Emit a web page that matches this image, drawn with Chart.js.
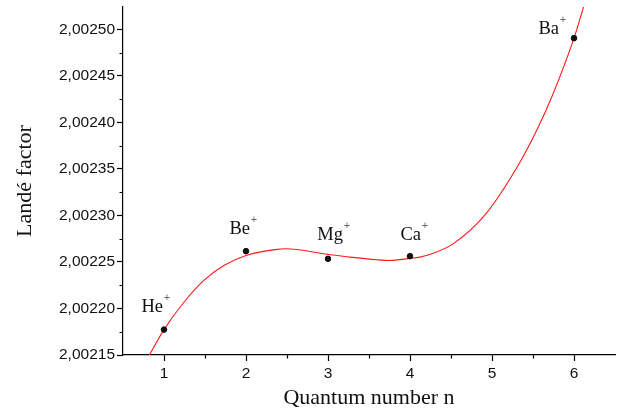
<!DOCTYPE html>
<html><head><meta charset="utf-8">
<script src="https://cdn.jsdelivr.net/npm/chart.js@4"></script>
<style>html,body{margin:0;padding:0;background:#fff}</style>
</head><body><canvas id="c" width="623" height="412"></canvas>
<script>
// ---- data ----
const ions = ['He', 'Be', 'Mg', 'Ca', 'Ba'];
const ionN = [1, 2, 3, 4, 6];
const ionG = [2.0021773, 2.0022616, 2.0022534, 2.0022562, 2.0024905];
// fitted curve
const fitN = [0.818, 1.0, 1.243, 1.486, 1.729, 2.0, 2.378, 2.48, 3.0, 3.27, 3.593, 3.75, 4.0, 4.12, 4.24, 4.524, 4.93, 5.334, 5.553, 5.739, 6.0, 6.118];
const fitG = [2.0021493, 2.0021773, 2.0022067, 2.0022301, 2.0022462, 2.0022570, 2.0022635, 2.0022642, 2.0022581, 2.0022552, 2.0022524, 2.0022516, 2.0022538, 2.0022552, 2.0022579, 2.0022694, 2.0023023, 2.0023561, 2.0023928, 2.0024294, 2.0024905, 2.0025243];
const xTicks = [1, 2, 3, 4, 5, 6];
const xMinorTicks = [1.5, 2.5, 3.5, 4.5, 5.5];
const yTicks = [2.00215, 2.00220, 2.00225, 2.00230, 2.00235, 2.00240, 2.00245, 2.00250];
const yMinorTicks = [2.002175, 2.002225, 2.002275, 2.002325, 2.002375, 2.002425, 2.002475];

// label placement relative to each point: [dx of text right edge, dy of baseline]
const labelOffsets = { He: [-1, -18], Be: [4, -17], Mg: [15, -19], Ca: [11, -16], Ba: [-15, -4] };

const tickFont = { family: 'Liberation Sans, Arial, sans-serif', size: 15.5 };
const titleFont = { family: 'Liberation Serif, Times New Roman, serif', size: 22 };

const extras = {
  id: 'extras',
  afterDraw(chart) {
    const ctx = chart.ctx;
    const xs = chart.scales.x, ys = chart.scales.y;
    ctx.save();
    // minor ticks
    ctx.strokeStyle = '#000';
    ctx.lineWidth = 1.2;
    ctx.beginPath();
    xMinorTicks.forEach(v => {
      const px = Math.round(xs.getPixelForValue(v)) + 0.5;
      ctx.moveTo(px, xs.top);
      ctx.lineTo(px, xs.top + 3.5);
    });
    yMinorTicks.forEach(v => {
      const py = Math.round(ys.getPixelForValue(v)) + 0.5;
      ctx.moveTo(ys.right, py);
      ctx.lineTo(ys.right - 3.5, py);
    });
    ctx.stroke();
    // ion labels
    ions.forEach((name, i) => {
      const px = xs.getPixelForValue(ionN[i]);
      const py = ys.getPixelForValue(ionG[i]);
      const off = labelOffsets[name];
      const tx = px + off[0], ty = py + off[1];
      ctx.font = '18.5px "Liberation Serif", "Times New Roman", serif';
      ctx.fillStyle = '#111';
      ctx.textAlign = 'right';
      ctx.textBaseline = 'alphabetic';
      ctx.fillText(name, tx, ty);
      ctx.font = '11px "Liberation Sans", Arial, sans-serif';
      ctx.fillStyle = '#666';
      ctx.textAlign = 'center';
      ctx.textBaseline = 'middle';
      ctx.fillText('+', tx + 4, ty - 14);
    });
    ctx.restore();
  }
};

new Chart(document.getElementById('c'), {
  data: {
    datasets: [
      {
        type: 'line',
        label: 'fit',
        data: fitN.map((n, i) => ({ x: n, y: fitG[i] })),
        borderColor: '#ff1a1a',
        borderWidth: 1.1,
        pointRadius: 0,
        cubicInterpolationMode: 'monotone',
        fill: false,
        order: 2
      },
      {
        type: 'scatter',
        label: 'ions',
        data: ionN.map((n, i) => ({ x: n, y: ionG[i] })),
        backgroundColor: '#111',
        borderColor: '#111',
        pointRadius: 2.8,
        order: 1
      }
    ]
  },
  options: {
    responsive: false,
    animation: false,
    layout: { padding: { left: 0, top: 7, right: 8, bottom: 0 } },
    plugins: { legend: { display: false }, tooltip: { enabled: false } },
    scales: {
      x: {
        type: 'linear',
        min: 0.5,
        max: 6.5,
        afterBuildTicks: s => { s.ticks = xTicks.map(v => ({ value: v })); },
        afterFit: s => { s.height = 57; s.paddingLeft = 0; s.paddingRight = 0; },
        border: { display: true, color: '#000', width: 1.2 },
        grid: { display: true, drawOnChartArea: false, drawTicks: true, tickLength: 6, tickColor: '#000', tickWidth: 1.2 },
        ticks: { color: '#111', font: tickFont, padding: 3, callback: v => String(v) },
        title: { display: true, text: 'Quantum number n', color: '#111', font: titleFont, padding: { top: 0, bottom: 1 } }
      },
      y: {
        type: 'linear',
        min: 2.00215,
        max: 2.002524,
        afterBuildTicks: s => { s.ticks = yTicks.map(v => ({ value: v })); },
        afterFit: s => { s.width = 123; s.paddingTop = 0; s.paddingBottom = 0; },
        border: { display: true, color: '#000', width: 1.2 },
        grid: { display: true, drawOnChartArea: false, drawTicks: true, tickLength: 6, tickColor: '#000', tickWidth: 1.2 },
        ticks: { color: '#111', font: tickFont, padding: 2, callback: v => v.toFixed(5).replace('.', ',') },
        title: { display: true, text: 'Landé factor', color: '#111', font: titleFont, padding: { top: 12, bottom: 0 } }
      }
    }
  },
  plugins: [extras]
});
</script>
</body></html>
